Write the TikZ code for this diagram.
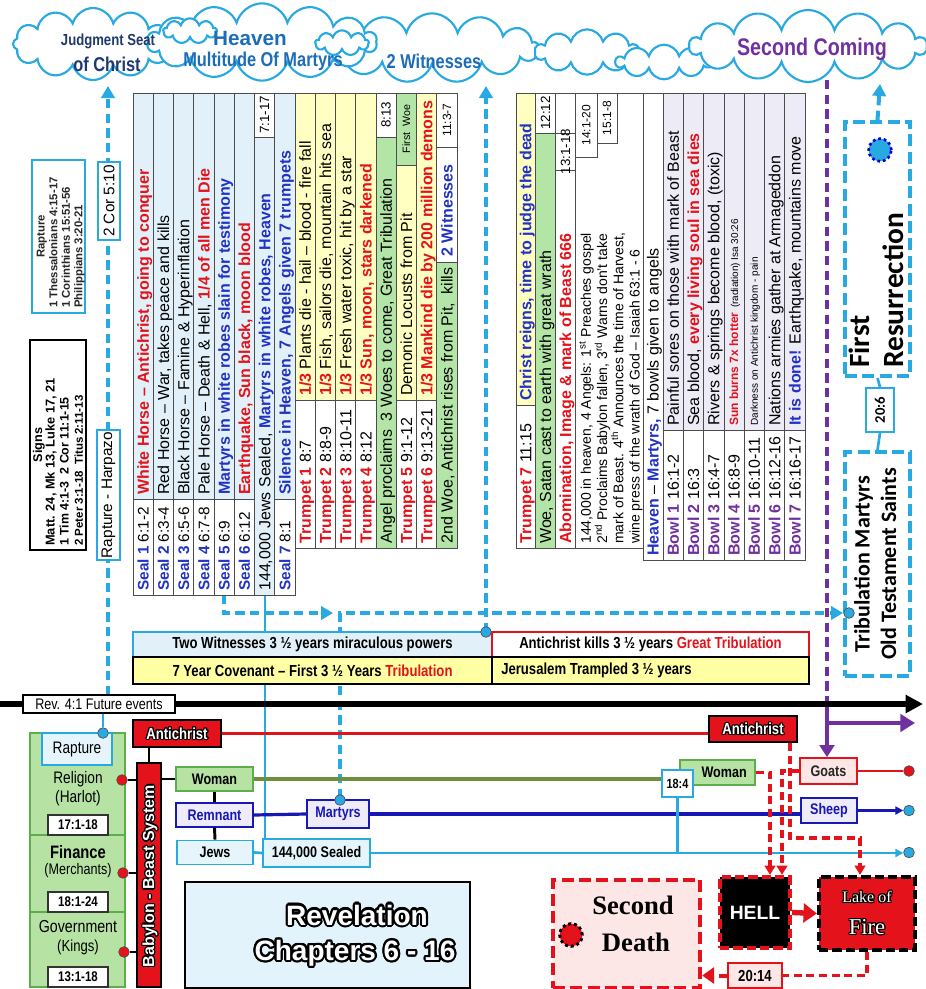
\documentclass[tikz,border=0pt]{standalone}
\usepackage{graphicx}
\usepackage{fontspec}
\setmainfont{Liberation Sans}
\newfontfamily\nar{Liberation Sans}[FakeStretch=0.82]
\newfontfamily\carl{Carlito}
\newfontfamily\serf{Liberation Serif}
\usetikzlibrary{shapes.symbols,shapes.misc,arrows.meta,calc}
\definecolor{lb}{HTML}{29A9E1}
\definecolor{cblue}{HTML}{E2F1F9}
\definecolor{cyel}{HTML}{FFFFC2}
\definecolor{byel}{HTML}{FFFFA3}
\definecolor{cgreen}{HTML}{B3E6A6}
\definecolor{clav}{HTML}{ECEBF6}
\definecolor{tred}{HTML}{E4121A}
\definecolor{tblue}{HTML}{2233C4}
\definecolor{tpur}{HTML}{7030A0}
\definecolor{hblue}{HTML}{1C6CB8}
\definecolor{navy}{HTML}{1F3A6E}
\definecolor{olive}{HTML}{6F8F3F}
\definecolor{ggreen}{HTML}{B6E3A4}
\definecolor{gborder}{HTML}{5DAE4B}
\definecolor{pinkf}{HTML}{FCE6E6}
\definecolor{revf}{HTML}{E3F3FB}
\definecolor{dblue}{HTML}{1818B4}
\definecolor{lavf}{HTML}{EEEBFA}
\definecolor{jewf}{HTML}{E6F4FB}
\newcommand{\redb}[1]{{\color{tred}\bfseries #1}}
\newcommand{\blub}[1]{{\color{tblue}\bfseries #1}}
\newcommand{\purb}[1]{{\color{tpur}\bfseries #1}}
\newcommand{\cell}[5]{\path[cellln,fill=#5] (#1,#2) rectangle (#3,#4);}
\newcommand{\outl}[6][]{%
  \foreach \a in {0,30,...,330}{\node[font=#5,text=black,inner sep=0pt,#1] at ($(#3,#4)+(\a:0.9pt)$) {#6};}%
  \node[font=#5,text=white,inner sep=0pt,#1] (#2) at (#3,#4) {#6};}
\begin{document}
\begin{tikzpicture}[x=0.75pt,y=-0.75pt,
  cellln/.style={draw=black!70,line width=0.6pt},
  vt/.style={rotate=90,anchor=west,inner sep=0pt,text height=8.6pt,text depth=0pt,font=\fontsize{12}{14}\selectfont},
  vtl/.style={rotate=90,anchor=west,inner sep=0pt,text height=8.2pt,text depth=0pt,font=\fontsize{11.5}{14}\selectfont},
  vref/.style={rotate=90,inner sep=0pt,font=\fontsize{10}{12}\selectfont},
  cl/.style={cloud,cloud puffs=#1,cloud ignores aspect,draw=lb,fill=white,line width=1.6pt,inner sep=0pt},
  lbdash/.style={draw=lb,line width=3pt,dash pattern=on 7pt off 4pt},
  lbsolid/.style={draw=lb,line width=2pt},
  tipb/.style={-{Triangle[length=9pt,width=10pt]}},
  tips/.style={-{Triangle[length=6pt,width=6pt]}},
  rdash/.style={draw=tred,line width=2.6pt,dash pattern=on 6pt off 3.5pt},
  tipr/.style={-{Triangle[length=7pt,width=8pt]}},
  dot/.style={circle,draw=black!70,line width=0.5pt,minimum size=8pt,inner sep=0pt},
  nb/.style={font=\nar\bfseries\fontsize{12}{14}\selectfont},
  refn/.style={draw=black!80,fill=white,line width=0.8pt,minimum width=45pt,minimum height=15pt,inner sep=0pt,font=\nar\bfseries\fontsize{10.5}{12}\selectfont},
  blk/.style={line width=2.2pt}
]
\useasboundingbox (0,0) rectangle (925,989);
\fill[white] (0,0) rectangle (925,989);

% ---------------- clouds
\node[cl=12,minimum width=120pt,minimum height=54pt] (cJ) at (93,44) {};
\node[cl=13,minimum width=160pt,minimum height=52pt] (cW) at (432,48) {};
\node[cl=14,minimum width=172pt,minimum height=58pt] (cH) at (262,42) {};
\node[cl=9,minimum width=40pt,minimum height=19pt] (cs1) at (190,31) {};
\node[cl=9,minimum width=40pt,minimum height=19pt] (cs2) at (342,43) {};
\node[cl=10,minimum width=78pt,minimum height=34pt] (cs3) at (587,52) {};
\node[cl=10,minimum width=72pt,minimum height=26pt] (cs4) at (664,62) {};
\node[cl=14,minimum width=178pt,minimum height=54pt] (cS) at (808,46) {};
\node[font=\nar\bfseries\fontsize{12}{14}\selectfont,text=navy] (tJ1) at (108,41) {Judgment Seat};
\node[font=\nar\bfseries\fontsize{15}{17}\selectfont,text=navy] (tJ2) at (107,64) {of Christ};
\node[font=\bfseries\fontsize{15.5}{17}\selectfont,text=hblue] (tH1) at (250,38) {Heaven};
\node[font=\nar\bfseries\fontsize{15}{17}\selectfont,text=hblue] (tH2) at (263,61) {Multitude Of Martyrs};
\node[font=\nar\bfseries\fontsize{15}{17}\selectfont,text=hblue] (tW) at (434,61) {2 Witnesses};
\node[font=\nar\bfseries\fontsize{18}{20}\selectfont,text=tpur] (tS) at (812,49) {Second Coming};

% ---------------- long connectors
\coordinate (rapTop) at (108,86);
\coordinate (rapLow) at (108,695);
\draw[lbdash,tipb] (rapLow) -- (rapTop);
\coordinate (twTop) at (486,86);
\coordinate (twLow) at (486,632);
\draw[lbdash,tipb] (twLow) -- (twTop);
\coordinate (frTop) at (880,84);
\coordinate (s5b) at (224.1,595);
\coordinate (s5turn) at (224.1,613);
\coordinate (s5end) at (333,613);
\draw[lbdash,tipb] (s5b) -- (s5turn) -- (s5end);
\coordinate (marTurn) at (340,613);
\coordinate (tribIn) at (843,613);
\draw[lbdash,tipb] (340,798) -- (marTurn) -- (tribIn);
\coordinate (c144b) at (265,595);
\coordinate (c144s) at (265,839);
\draw[lbsolid] (c144b) -- (c144s);
\coordinate (pTop) at (827,80);
\coordinate (pMid) at (827,700);
\coordinate (pTurn) at (827,723);
\coordinate (pEnd) at (915,723);
\draw[draw=tpur,line width=3pt,dash pattern=on 7pt off 4pt] (pTop) -- (pMid);
\draw[draw=tpur,line width=3pt] (pMid) -- (pTurn);
\draw[draw=tpur,line width=3.5pt,-{Triangle[length=11pt,width=13pt]}] (pTurn) -- (pEnd);

% ---------------- block 1 : seals
\cell{133}{499}{153.25}{595}{white}\cell{133}{93}{153.25}{499}{cblue}
\node[vtl] (s1l) at (143.1,591) {\blub{Seal 1} 6:1-2};
\node[vt] (s1d) at (143.1,495) {\redb{White Horse – Antichrist, going to conquer}};
\cell{153.25}{499}{173.5}{595}{white}\cell{153.25}{93}{173.5}{499}{cblue}
\node[vtl] (s2l) at (163.4,591) {\blub{Seal 2} 6:3-4};
\node[vt] (s2d) at (163.4,495) {Red Horse – War, takes peace and kills};
\cell{173.5}{499}{193.75}{595}{white}\cell{173.5}{93}{193.75}{499}{cblue}
\node[vtl] (s3l) at (183.6,591) {\blub{Seal 3} 6:5-6};
\node[vt] (s3d) at (183.6,495) {Black Horse – Famine \& Hyperinflation};
\cell{193.75}{499}{214}{595}{white}\cell{193.75}{93}{214}{499}{cblue}
\node[vtl] (s4l) at (203.9,591) {\blub{Seal 4} 6:7-8};
\node[vt] (s4d) at (203.9,495) {Pale Horse – Death \& Hell, \redb{1/4 of all men Die}};
\cell{214}{499}{234.25}{595}{white}\cell{214}{93}{234.25}{499}{cblue}
\node[vtl] (s5l) at (224.1,591) {\blub{Seal 5} 6:9};
\node[vt] (s5d) at (224.1,495) {\blub{Martyrs in white robes slain for testimony}};
\cell{234.25}{499}{254.5}{595}{white}\cell{234.25}{93}{254.5}{499}{cblue}
\node[vtl] (s6l) at (244.4,591) {\blub{Seal 6} 6:12};
\node[vt] (s6d) at (244.4,495) {\redb{Earthquake, Sun black, moon blood}};
\cell{254.5}{137}{274.75}{595}{cblue}\cell{254.5}{93}{274.75}{137}{white}
\node[vref] (r717) at (264.6,115) {7:1-17};
\node[vt] (s144) at (264.6,591) {144,000 Jews Sealed, \blub{Martyrs in white robes, Heaven}};
\cell{274.75}{499}{295}{595}{white}\cell{274.75}{93}{295}{499}{cblue}
\node[vtl] (s7l) at (284.9,591) {\blub{Seal 7} 8:1};
\node[vt] (s7d) at (284.9,495) {\blub{Silence in Heaven, 7 Angels given 7 trumpets}};

% ---------------- block 1 : trumpets
\cell{295}{400}{315.25}{548}{white}\cell{295}{93}{315.25}{400}{cyel}
\node[vt] (t1l) at (305.1,544) {\redb{Trumpet 1} 8:7};
\node[vt] (t1d) at (305.1,396) {\redb{1/3} Plants die - hail – blood - fire fall};
\cell{315.25}{400}{335.5}{548}{white}\cell{315.25}{93}{335.5}{400}{cyel}
\node[vt] (t2l) at (325.4,544) {\redb{Trumpet 2} 8:8-9};
\node[vt] (t2d) at (325.4,396) {\redb{1/3} Fish, sailors die, mountain hits sea};
\cell{335.5}{400}{355.75}{548}{white}\cell{335.5}{93}{355.75}{400}{cyel}
\node[vt] (t3l) at (345.6,544) {\redb{Trumpet 3} 8:10-11};
\node[vt] (t3d) at (345.6,396) {\redb{1/3} Fresh water toxic, hit by a star};
\cell{355.75}{400}{376}{548}{white}\cell{355.75}{93}{376}{400}{cyel}
\node[vt] (t4l) at (365.9,544) {\redb{Trumpet 4} 8:12};
\node[vt] (t4d) at (365.9,396) {\redb{1/3 Sun, moon, stars darkened}};
\cell{376}{137}{396.25}{548}{cgreen}\cell{376}{93}{396.25}{137}{white}
\node[vref] (r813) at (386.1,115) {8:13};
\node[vt] (ang) at (386.1,544) {Angel proclaims\ \ 3 Woes to come, Great Tribulation};
\cell{396.25}{400}{416.5}{548}{white}\cell{396.25}{165}{416.5}{400}{cyel}\cell{396.25}{93}{416.5}{165}{cgreen}
\node[vref,font=\fontsize{8}{9}\selectfont] (fw) at (406.4,129) {First\ \ Woe};
\node[vt] (t5l) at (406.4,544) {\redb{Trumpet 5} 9:1-12};
\node[vt] (t5d) at (406.4,396) {Demonic Locusts from Pit};
\cell{416.5}{400}{436.75}{548}{white}\cell{416.5}{93}{436.75}{400}{cyel}
\node[vt] (t6l) at (426.6,544) {\redb{Trumpet 6} 9:13-21};
\node[vt] (t6d) at (426.6,396) {\redb{1/3 Mankind die by 200 million demons}};
\cell{436.75}{262}{457}{548}{cgreen}\cell{436.75}{147}{457}{262}{white}\cell{436.75}{93}{457}{147}{white}
\node[vref,font=\fontsize{9}{10}\selectfont] (r113) at (446.9,120) {11:3-7};
\node[vt] (w2d) at (446.9,544) {2nd Woe, Antichrist rises from Pit,\ \ kills};
\node[vt] (w2w) at (446.9,257) {\blub{2 Witnesses}};

% ---------------- block 2
\cell{516}{405}{535.5}{548}{white}\cell{516}{93}{535.5}{405}{cyel}
\node[vt] (t7l) at (525.75,544) {\redb{Trumpet 7} 11:15};
\node[vt] (t7d) at (525.75,401) {\blub{Christ reigns, time to judge the dead}};
\cell{535.5}{133}{555.5}{548}{cgreen}\cell{535.5}{93}{555.5}{133}{white}
\node[vref] (r1212) at (545.5,113) {12:12};
\node[vt] (woe) at (545.5,544) {Woe, Satan cast to earth with great wrath};
\cell{555.5}{93}{575.5}{548}{white}\cell{555.5}{133}{575.5}{170}{white}
\node[vref] (r1318b) at (565.5,151.5) {13:1-18};
\node[vt] (abo) at (565.5,544) {\redb{Abomination, Image \& mark of Beast 666}};
\cell{575.5}{93}{643}{548}{white}
\cell{575.5}{93}{597}{157}{white}\cell{597}{93}{617}{143}{white}
\node[vref,font=\fontsize{9}{10}\selectfont] (r1420) at (586.25,125) {14:1-20};
\node[vref,font=\fontsize{9}{10}\selectfont] (r1518) at (607,118) {15:1-8};
\node[rotate=90,anchor=north west,align=left,inner sep=0pt,font=\fontsize{10.5}{12.2}\selectfont] (blk4) at (579,544) {144,000 in heaven, 4 Angels: 1\textsuperscript{st} Preaches gospel\\2\textsuperscript{nd} Proclaims Babylon fallen, 3\textsuperscript{rd} Warns don't take\\mark of Beast. 4\textsuperscript{th} Announces the time of Harvest,\\wine press of the wrath of God – Isaiah 63:1 - 6};
\cell{643}{93}{663}{560}{white}
\node[vt] (hvn) at (653,556) {\blub{Heaven} – \blub{Martyrs,} 7 bowls given to angels};
\cell{663}{430}{683.3}{560}{white}\cell{663}{93}{683.3}{430}{clav}
\node[vt] (b1l) at (673.15,556) {\purb{Bowl 1} 16:1-2};
\node[vt] (b1d) at (673.15,426) {Painful sores on those with mark of Beast};
\cell{683.3}{430}{703.6}{560}{white}\cell{683.3}{93}{703.6}{430}{clav}
\node[vt] (b2l) at (693.45,556) {\purb{Bowl 2} 16:3};
\node[vt] (b2d) at (693.45,426) {Sea blood, \redb{every living soul in sea dies}};
\cell{703.6}{430}{723.9}{560}{white}\cell{703.6}{93}{723.9}{430}{clav}
\node[vt] (b3l) at (713.75,556) {\purb{Bowl 3} 16:4-7};
\node[vt] (b3d) at (713.75,426) {Rivers \& springs become blood, (toxic)};
\cell{723.9}{430}{744.1}{560}{white}\cell{723.9}{93}{744.1}{430}{clav}
\node[vt] (b4l) at (734,556) {\purb{Bowl 4} 16:8-9};
\node[vt,text height=6.2pt] (b4d) at (734,426) {{\fontsize{9}{10}\selectfont\redb{Sun burns 7x hotter}} {\fontsize{7.5}{9}\selectfont (radiation) Isa 30:26}};
\cell{744.1}{430}{764.4}{560}{white}\cell{744.1}{93}{764.4}{430}{clav}
\node[vt] (b5l) at (754.25,556) {\purb{Bowl 5} 16:10-11};
\node[vt,text height=5.4pt] (b5d) at (754.25,426) {{\fontsize{7.5}{9}\selectfont Darkness on Antichrist kingdom - pain}};
\cell{764.4}{430}{784.7}{560}{white}\cell{764.4}{93}{784.7}{430}{clav}
\node[vt] (b6l) at (774.55,556) {\purb{Bowl 6} 16:12-16};
\node[vt] (b6d) at (774.55,426) {Nations armies gather at Armageddon};
\cell{784.7}{430}{805}{560}{white}\cell{784.7}{93}{805}{430}{clav}
\node[vt] (b7l) at (794.85,556) {\purb{Bowl 7} 16:16-17};
\node[vt] (b7d) at (794.85,426) {\blub{It is done!} Earthquake, mountains move};

% ---------------- left boxes
\draw[draw=lb,line width=1.3pt,fill=white] (32,160) rectangle (85,313);
\node[rotate=90,inner sep=0pt,font=\bfseries\fontsize{8.5}{9.3}\selectfont,text=black!85] (raptH) at (42,236.5) {Rapture};
\node[rotate=90,anchor=north west,align=left,inner sep=0pt,font=\bfseries\fontsize{8.5}{9.3}\selectfont,text=black!85] (raptL) at (49,308) {1 Thessalonians 4:15-17\\1 Corinthians 15:51-56\\Philippians 3:20-21};
\draw[draw=black,line width=1.5pt,fill=white] (30,340) rectangle (86,550);
\node[rotate=90,inner sep=0pt,font=\bfseries\fontsize{9.5}{11}\selectfont] (signH) at (39,445) {Signs};
\node[rotate=90,anchor=north west,align=left,inner sep=0pt,font=\bfseries\fontsize{9.6}{10.6}\selectfont] (signL) at (45,546) {Matt. 24, Mk 13, Luke 17, 21\\{\fontsize{9.3}{10.6}\selectfont 1 Tim 4:1-3\ \ 2 Cor 11:1-15}\\{\fontsize{8.6}{10.6}\selectfont 2 Peter 3:1-18\ \ Titus 2:11-13}};
\node[draw=lb,line width=1.4pt,fill=white,minimum width=16.5pt,minimum height=58.5pt,inner sep=0pt] (cor) at (109,201) {\rotatebox{90}{\fontsize{11.5}{13}\selectfont 2 Cor 5:10}};
\node[draw=lb,line width=1.4pt,fill=white,minimum width=17.25pt,minimum height=97.5pt,inner sep=0pt] (harp) at (108.5,495) {\rotatebox{90}{\fontsize{11.5}{13}\selectfont Rapture - Harpazo}};

% ---------------- right boxes
\node[draw=lb,line width=3pt,dash pattern=on 9pt off 4pt,fill=white,minimum width=48.75pt,minimum height=190.5pt,inner sep=0pt] (fr) at (877.5,249) {};
\draw[lbdash,tipb] (fr.north) -- (frTop);
\node[rotate=90,anchor=north west,align=left,inner sep=0pt,font=\carl\bfseries\fontsize{22}{25.5}\selectfont] (frt) at (849,368) {First\\Resurrection};
\node[circle,fill=lb,draw=blue!80!black,line width=2pt,dash pattern=on 2pt off 2.2pt,minimum size=17pt,inner sep=0pt] (frs) at (880,150) {};
\node[draw=lb,line width=1.3pt,fill=white,minimum width=21pt,minimum height=33pt,inner sep=0pt] (b206) at (880,410) {\rotatebox{90}{\carl\bfseries\fontsize{11}{12}\selectfont 20:6}};
\node[draw=lb,line width=3pt,dash pattern=on 9pt off 4pt,fill=white,minimum width=48.75pt,minimum height=168pt,inner sep=0pt] (trib) at (877.5,564) {\rotatebox{90}{\carl\bfseries\fontsize{16.5}{20}\selectfont\begin{tabular}{@{}c@{}}Tribulation Martyrs\\Old Testament Saints\end{tabular}}};
\draw[lbsolid] (fr.south) -- (b206.north);
\draw[lbsolid] (b206.south) -- (trib.north);
\node[dot,fill=lb] (ctr) at (849,613) {};

% ---------------- bars
\node[draw=lb,line width=1.2pt,fill=cblue,minimum width=269.25pt,minimum height=18.75pt,inner sep=0pt,nb] (tw) at (312.5,644.5) {Two Witnesses 3 ½ years miraculous powers};
\node[draw=tred,line width=1.2pt,fill=white,minimum width=237.75pt,minimum height=18.75pt,inner sep=0pt,nb] (ak) at (650.5,644.5) {Antichrist kills 3 ½ years {\color{tred}Great Tribulation}};
\node[draw=black,line width=1.2pt,fill=byel,minimum width=269.25pt,minimum height=20.25pt,inner sep=0pt,nb] (yc) at (312.5,670.5) {7 Year Covenant – First 3 ½ Years {\color{tred}Tribulation}};
\node[draw=black,line width=1.2pt,fill=byel,minimum width=237.75pt,minimum height=20.25pt,inner sep=0pt] (jt) at (650.5,670.5) {};
\node[nb,anchor=west,inner sep=0pt] (jtt) at (501,670.5) {Jerusalem Trampled 3 ½ years};
\node[dot,fill=lb] (ctw) at (twLow) {};

% ---------------- timeline
\draw[line width=4.5pt,-{Triangle[length=13pt,width=13pt]}] (0,704) -- (923,704);
\node[draw=black,line width=1.5pt,fill=white,minimum width=114pt,minimum height=13.5pt,inner sep=0pt,font=\nar\fontsize{11.5}{12}\selectfont] (rev) at (99,704) {Rev. 4:1 Future events};

% ---------------- bottom left
\node[draw=gborder,line width=1.3pt,fill=ggreen,minimum width=71.25pt,minimum height=76.5pt,inner sep=0pt] (grel) at (77.5,784) {};
\node[draw=gborder,line width=1.3pt,fill=ggreen,minimum width=71.25pt,minimum height=57.75pt,inner sep=0pt] (gfin) at (77.5,873.5) {};
\node[draw=gborder,line width=1.3pt,fill=ggreen,minimum width=71.25pt,minimum height=56.25pt,inner sep=0pt] (ggov) at (77.5,949.5) {};
\node[draw=lb,line width=1.8pt,fill=jewf,minimum width=52.5pt,minimum height=24pt,inner sep=0pt,font=\nar\fontsize{12.5}{14}\selectfont] (rap) at (77,749) {Rapture};
\node[dot,fill=lb] (crap) at (103,733) {};
\draw[lbsolid] (rev.south -| crap) -- (crap);
\node[font=\nar\fontsize{12.5}{14}\selectfont] (trel1) at (78,779) {Religion};
\node[font=\nar\fontsize{12.5}{14}\selectfont] (trel2) at (78,798) {(Harlot)};
\node[refn] (r1718) at (78,825) {17:1-18};
\node[font=\nar\bfseries\fontsize{13.5}{15}\selectfont] (tfin1) at (78,852) {Finance};
\node[font=\nar\fontsize{11.5}{13}\selectfont] (tfin2) at (78,871) {(Merchants)};
\node[refn] (r1824) at (78,902) {18:1-24};
\node[font=\nar\fontsize{13}{15}\selectfont] (tgov1) at (78,927) {Government};
\node[font=\nar\fontsize{12}{14}\selectfont] (tgov2) at (78,947) {(Kings)};
\node[refn] (r1318) at (78,977) {13:1-18};

\node[draw=black,line width=1.3pt,fill=tred,minimum width=18pt,minimum height=168pt,inner sep=0pt] (bab) at (149,875) {};
\node[draw=black,line width=1.5pt,fill=tred,minimum width=66pt,minimum height=20.25pt,inner sep=0pt] (ac1) at (177,733.5) {};
\node[draw=gborder,line width=1.3pt,fill=ggreen,minimum width=57.75pt,minimum height=18pt,inner sep=0pt,font=\nar\bfseries\fontsize{11.5}{13}\selectfont] (wom) at (214.5,779) {Woman};
\node[draw=dblue,line width=1.3pt,fill=lavf,minimum width=57.75pt,minimum height=18pt,inner sep=0pt,text=dblue,font=\nar\bfseries\fontsize{11.5}{13}\selectfont] (rem) at (214.5,815) {Remnant};
\node[draw=lb,line width=1.3pt,fill=jewf,minimum width=57pt,minimum height=18pt,inner sep=0pt,font=\nar\bfseries\fontsize{11.5}{13}\selectfont] (jew) at (215,852.5) {Jews};
\node[draw=dblue,line width=1.3pt,fill=lavf,minimum width=46.5pt,minimum height=21pt,inner sep=0pt,text=dblue,font=\nar\bfseries\fontsize{11.5}{13}\selectfont] (mar) at (338,814) {Martyrs};
\node[draw=lb,line width=1.3pt,fill=jewf,minimum width=80.25pt,minimum height=21pt,inner sep=0pt,font=\nar\bfseries\fontsize{11.5}{13}\selectfont] (sea) at (316.5,853) {144,000 Sealed};
\node[dot,fill=lb] (cmar) at (340,800) {};
\node[dot,fill=tred] (crel) at (122,780) {};
\node[dot,fill=tred] (cfin) at (123,873) {};
\node[dot,fill=tred] (cgov) at (124,952) {};

% ---------------- bottom right boxes
\node[draw=black,line width=1.5pt,fill=tred,minimum width=66pt,minimum height=19.5pt,inner sep=0pt] (ac2) at (753,729) {};
\node[draw=gborder,line width=1.3pt,fill=ggreen,minimum width=56.25pt,minimum height=18.75pt,inner sep=0pt,font=\nar\bfseries\fontsize{11.5}{13}\selectfont] (wom2) at (717.5,772.5) {\hspace*{10pt}Woman};
\node[draw=lb,line width=1.3pt,fill=white,minimum width=23.25pt,minimum height=20.25pt,inner sep=0pt,font=\nar\bfseries\fontsize{10}{12}\selectfont] (b184) at (677.5,783.5) {18:4};
\node[draw=tred,line width=1.3pt,fill=pinkf,minimum width=42.75pt,minimum height=19.5pt,inner sep=0pt,text=black!85,font=\nar\bfseries\fontsize{11.5}{13}\selectfont] (goats) at (828.5,771) {Goats};
\node[draw=dblue,line width=1.3pt,fill=lavf,minimum width=42pt,minimum height=18.75pt,inner sep=0pt,text=dblue,font=\nar\bfseries\fontsize{11.5}{13}\selectfont] (sheep) at (829,810.5) {Sheep};
\node[draw=tred,line width=3.2pt,dash pattern=on 7pt off 3pt,fill=black,minimum width=52.5pt,minimum height=53.25pt,inner sep=0pt,font=\bfseries\fontsize{14.5}{16}\selectfont,text=white] (hell) at (755,912.5) {HELL};
\node[draw=black,line width=3.2pt,dash pattern=on 7pt off 3pt,fill=tred,minimum width=72pt,minimum height=54.75pt,inner sep=0pt] (lake) at (867,913.5) {};
\node[draw=tred,line width=3.2pt,dash pattern=on 9pt off 4pt,fill=pinkf,minimum width=110.25pt,minimum height=81pt,inner sep=0pt] (sd) at (626.5,934) {};
\node[draw=tred,line width=1.3pt,fill=pinkf,minimum width=40.5pt,minimum height=18.75pt,inner sep=0pt,font=\nar\bfseries\fontsize{12}{14}\selectfont] (b2014) at (755,975.5) {20:14};
\node[dot,fill=tred] (crd) at (909,771) {};
\node[dot,fill=lb] (cbl) at (909,810.5) {};
\node[dot,fill=lb] (clb) at (909,852.5) {};

% ---------------- bottom connectors
\draw[blk] (bab.north) -- (bab.north |- ac1.south);
\draw[blk] (crel) -- (crel -| bab.west);
\draw[blk] (cfin) -- (cfin -| bab.west);
\draw[blk] (cgov) -- (cgov -| bab.west);
\draw[blk] (bab.east |- wom.west) -- (wom.west);
\draw[blk] (wom.south) -- (rem.north);
\draw[blk] (rem.south) -- (jew.north);
\draw[draw=tred,line width=2.2pt] (ac1.east) -- (ac1.east -| ac2.west);
\draw[draw=olive,line width=2.4pt] (wom.east) -- (wom.east -| b184.west);
\draw[draw=dblue,line width=2.4pt] (rem.east) -- (mar.west);
\draw[draw=dblue,line width=2.4pt] (mar.east) -- (mar.east -| sheep.west);
\draw[draw=dblue,line width=2.4pt,tips] (sheep.east) -- (cbl.west);
\draw[lbsolid] (jew.east) -- (sea.west);
\draw[lbsolid,tips] (sea.east) -- (sea.east -| clb.west);
\draw[lbsolid] (b184.south) -- (b184.south |- sea.east);
\draw[draw=tred,line width=2.2pt] (goats.east) -- (crd.west);
\draw[draw=tpur,line width=3pt,-{Triangle[length=9pt,width=11pt]}] (pTurn) -- (pTurn |- goats.north);
\draw[rdash,tipr] (wom2.east) -| ($(hell.north)+(15,0)$);
\draw[rdash,tipr] (goats.west) -| ($(hell.north)+(27,0)$);
\draw[rdash,tipr] ($(ac2.south)+(37,0)$) -- ++(0,95) -| ($(lake.north)+(-7,0)$);
\draw[rdash] (lake.south) |- (b2014.east);
\draw[draw=tred,line width=3pt,dash pattern=on 6pt off 3.5pt,-{Triangle[length=9pt,width=12pt]}] (b2014.west) -- (b2014.west -| sd.east);
\draw[draw=tred,line width=4pt,-{Triangle[length=10pt,width=14pt]}] (hell.east) -- (lake.west);

% ---------------- outlined texts
\outl[rotate=90]{babt}{150}{876}{\bfseries\fontsize{12}{14}\selectfont}{Babylon - Beast System}
\outl{ac1t}{177}{733.5}{\nar\bfseries\fontsize{12}{14}\selectfont}{Antichrist}
\outl{ac2t}{753}{729}{\nar\bfseries\fontsize{12}{14}\selectfont}{Antichrist}
\outl{lake1}{867}{897}{\serf\fontsize{12}{14}\selectfont}{Lake of}
\outl{lake2}{867}{927}{\serf\fontsize{17}{19}\selectfont}{Fire}

% ---------------- Second death text
\node[font=\serf\bfseries\fontsize{20}{22}\selectfont] (sdt1) at (633,905) {Second};
\node[font=\serf\bfseries\fontsize{20}{22}\selectfont] (sdt2) at (636,942) {Death};
\node[circle,fill=tred,draw=black,line width=2.2pt,dash pattern=on 2.2pt off 2.2pt,minimum size=17pt,inner sep=0pt] (sds) at (571,935) {};

% ---------------- Revelation box
\node[draw=black,line width=1.5pt,fill=revf,minimum width=213.75pt,minimum height=79.5pt,inner sep=0pt] (revb) at (327.5,935) {};
\foreach \a in {0,20,...,340}{
  \node[font=\bfseries\fontsize{21}{24}\selectfont,text=black] at ($(357,915)+(\a:1.6pt)$) {Revelation};
  \node[font=\bfseries\fontsize{21}{24}\selectfont,text=black] at ($(355,953)+(\a:1.6pt)$) {Chapters 6 - 16};}
\node[font=\bfseries\fontsize{21}{24}\selectfont,text=white] (revt1) at (357,915) {Revelation};
\node[font=\bfseries\fontsize{21}{24}\selectfont,text=white] (revt2) at (355,953) {Chapters 6 - 16};
\end{tikzpicture}
\end{document}
